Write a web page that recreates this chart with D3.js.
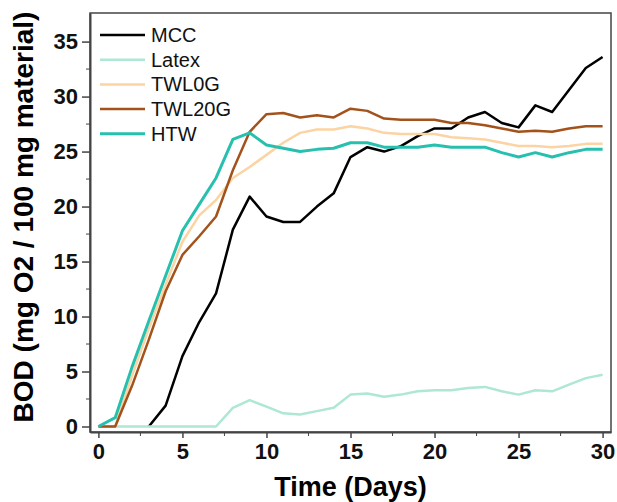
<!DOCTYPE html>
<html>
<head>
<meta charset="utf-8">
<script src="https://cdn.jsdelivr.net/npm/d3@7"></script>
<style>
  body { margin: 0; background: #fff; }
  svg { display: block; font-family: "Liberation Sans", Arial, sans-serif; }
</style>
</head>
<body>
<div class="chart"></div>
<script>
// BOD over time for the five materials

var w = 617, h = 502;

var days = d3.range(0, 31);
var seriesNames = ['MCC', 'Latex', 'TWL0G', 'TWL20G', 'HTW'];
var seriesColors = ['#000000', '#aee8d4', '#fcd3a3', '#a3521b', '#27c0ae'];

// MCC has no visible trace before day 3
var mcc    = [null, null, null, 0, 1.9, 6.4, 9.5, 12.1, 17.9, 20.9, 19.1, 18.6, 18.6, 20.0, 21.2, 24.5,
              25.4, 25.0, 25.5, 26.4, 27.1, 27.1, 28.1, 28.6, 27.6, 27.2, 29.2, 28.6, 30.6, 32.6, 33.6];
var latex  = [0, 0, 0, 0, 0, 0, 0, 0, 1.7, 2.4, 1.8, 1.2, 1.1, 1.4, 1.7, 2.9,
              3.0, 2.7, 2.9, 3.2, 3.3, 3.3, 3.5, 3.6, 3.2, 2.9, 3.3, 3.2, 3.8, 4.4, 4.7];
var twl0g  = [0, 0, 4.6, 8.9, 12.9, 16.8, 19.2, 20.6, 22.6, 23.6, 24.7, 25.8, 26.7, 27.0, 27.0, 27.3,
              27.1, 26.7, 26.6, 26.6, 26.6, 26.3, 26.2, 26.1, 25.8, 25.5, 25.5, 25.4, 25.5, 25.7, 25.7];
var twl20g = [0, 0, 3.7, 7.9, 12.3, 15.6, 17.3, 19.1, 23.3, 26.8, 28.4, 28.5, 28.1, 28.3, 28.1, 28.9,
              28.7, 28.0, 27.9, 27.9, 27.9, 27.6, 27.6, 27.4, 27.1, 26.8, 26.9, 26.8, 27.1, 27.3, 27.3];
var htw    = [0, 0.8, 5.4, 9.6, 13.7, 17.8, 20.2, 22.6, 26.1, 26.7, 25.6, 25.3, 25.0, 25.2, 25.3, 25.8,
              25.8, 25.4, 25.4, 25.4, 25.6, 25.4, 25.4, 25.4, 24.9, 24.5, 24.9, 24.5, 24.9, 25.2, 25.2];

var xTicks = [0, 5, 10, 15, 20, 25, 30];
var xMinor = [2.5, 7.5, 12.5, 17.5, 22.5, 27.5];
var yTicks = [0, 5, 10, 15, 20, 25, 30, 35];
var yMinor = [2.5, 7.5, 12.5, 17.5, 22.5, 27.5, 32.5];

var allSeries = [mcc, latex, twl0g, twl20g, htw];

// plot box (window.top is reserved, so use a prefix)
var pLeft = 90, pRight = 611, pTop = 13, pBottom = 432;

var x = d3.scaleLinear().domain([-0.5, 30.5]).range([pLeft, pRight]);
var y = d3.scaleLinear().domain([-0.5, 37.6]).range([pBottom, pTop]);

var svg = d3.select('.chart').append('svg')
      .attr('width', w)
      .attr('height', h);

// frame
svg.append('rect')
    .attr('x', pLeft).attr('y', pTop)
    .attr('width', pRight - pLeft).attr('height', pBottom - pTop)
    .attr('fill', 'none')
    .attr('stroke', '#444')
    .attr('stroke-width', 1.5);

// lines
var line = d3.line()
    .defined(function(d) { return d != null; })
    .x(function(d, i) { return x(days[i]); })
    .y(function(d) { return y(d); });

svg.selectAll('path.series')
    .data(allSeries)
  .enter().append('path')
    .attr('class', 'series')
    .attr('d', line)
    .attr('fill', 'none')
    .attr('stroke', function(d, i) { return seriesColors[i]; })
    .attr('stroke-width', function(d, i) { return i == 4 ? 3 : 2.5; })
    .attr('stroke-linejoin', 'round');

// axes
var xAxis = svg.append('g')
    .attr('transform', 'translate(0,' + pBottom + ')')
    .call(d3.axisBottom(x).tickValues(xTicks).tickSize(6).tickSizeOuter(0).tickPadding(5));
xAxis.append('g').selectAll('line')
    .data(xMinor)
  .enter().append('line')
    .attr('x1', function(d) { return x(d); })
    .attr('x2', function(d) { return x(d); })
    .attr('y2', 4)
    .attr('stroke', '#444');

var yAxis = svg.append('g')
    .attr('transform', 'translate(' + pLeft + ',0)')
    .call(d3.axisLeft(y).tickValues(yTicks).tickSize(8).tickSizeOuter(0).tickPadding(4));
yAxis.append('g').selectAll('line')
    .data(yMinor)
  .enter().append('line')
    .attr('y1', function(d) { return y(d); })
    .attr('y2', function(d) { return y(d); })
    .attr('x2', -4)
    .attr('stroke', '#444');

svg.selectAll('.domain').attr('stroke', '#444').attr('stroke-width', 2);
svg.selectAll('.tick line').attr('stroke', '#444').attr('stroke-width', 1.5);
svg.selectAll('.tick text')
    .attr('fill', '#111')
    .style('font-size', '22px')
    .style('font-weight', 'bold')
    .style('font-family', '"Liberation Sans", Arial, sans-serif');

// axis titles
svg.append('text')
    .attr('x', (x(0) + x(30)) / 2)
    .attr('y', 496)
    .attr('text-anchor', 'middle')
    .style('font-size', '27px')
    .style('font-weight', 'bold')
    .text('Time (Days)');

svg.append('text')
    .attr('transform', 'translate(33,217) rotate(-90)')
    .attr('text-anchor', 'middle')
    .style('font-size', '28px')
    .style('font-weight', 'bold')
    .text('BOD (mg O2 / 100 mg material)');

// legend
var legend = svg.selectAll('g.legend')
    .data(seriesNames)
  .enter().append('g')
    .attr('class', 'legend')
    .attr('transform', function(d, i) { return 'translate(100,' + (35 + i * 24.7) + ')'; });

legend.append('line')
    .attr('x2', 45)
    .attr('stroke', function(d, i) { return seriesColors[i]; })
    .attr('stroke-width', function(d, i) { return i == 4 ? 3 : 2.5; });

legend.append('text')
    .attr('x', 51)
    .attr('dy', '0.35em')
    .style('font-size', '20px')
    .attr('fill', '#111')
    .text(function(d) { return d; });
</script>
</body>
</html>
